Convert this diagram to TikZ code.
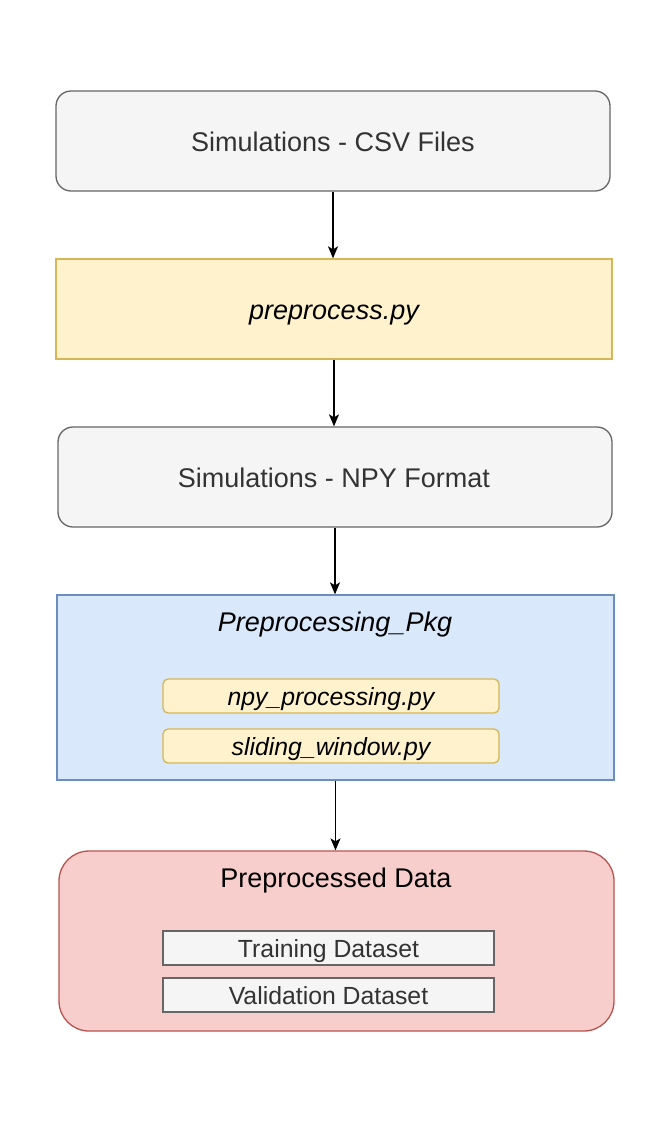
\documentclass[tikz,border=0pt]{standalone}
\usepackage{fontspec}
\setmainfont{Liberation Sans}
\usetikzlibrary{arrows.meta}
\definecolor{greyfill}{HTML}{F5F5F5}
\definecolor{greydraw}{HTML}{666666}
\definecolor{greytext}{HTML}{333333}
\definecolor{yelfill}{HTML}{FFF2CC}
\definecolor{yeldraw}{HTML}{D6B656}
\definecolor{bluefill}{HTML}{DAE8FC}
\definecolor{bluedraw}{HTML}{6C8EBF}
\definecolor{redfill}{HTML}{F8CECC}
\definecolor{reddraw}{HTML}{B85450}
\tikzset{
  box/.style={inner sep=0pt, line width=1.3pt},
  greybox/.style={box, fill=greyfill, draw=greydraw, text=greytext},
  yelbox/.style={box, fill=yelfill, draw=yeldraw, text=black},
  bigfont/.style={font=\fontsize{27}{32}\selectfont, inner sep=0pt, anchor=base},
  smallfont/.style={font=\fontsize{24.8}{30}\selectfont, inner sep=0pt, anchor=base},
  conn/.style={line width=1.5pt, -{Stealth[length=12pt,width=10pt,inset=3pt]}},
}
\begin{document}
\begin{tikzpicture}[x=1pt,y=-1pt]
\useasboundingbox (0,0) rectangle (670,1125);
% top box
\node[greybox, rounded corners=15pt, minimum width=554pt, minimum height=100pt] (csv) at (333,141) {};
\node[bigfont, text=greytext] (csvt) at (333,151) {Simulations - CSV Files};
% preprocess.py
\node[yelbox, minimum width=556pt, minimum height=100pt] (pre) at (334,309) {};
\node[bigfont] (pret) at (334,319) {\itshape preprocess.py};
% NPY
\node[greybox, rounded corners=15pt, minimum width=554pt, minimum height=100pt] (npy) at (335,477) {};
\node[bigfont, text=greytext] (npyt) at (334,487) {Simulations - NPY Format};
% package
\node[box, fill=bluefill, draw=bluedraw, minimum width=557pt, minimum height=185pt] (pkg) at (335.5,687.5) {};
\node[bigfont] (pkgt) at (335,631) {\itshape Preprocessing\_Pkg};
\node[yelbox, rounded corners=5pt, minimum width=336pt, minimum height=34pt] (np) at (331,696) {};
\node[smallfont] (npt) at (331,705) {\itshape npy\_processing.py};
\node[yelbox, rounded corners=5pt, minimum width=336pt, minimum height=34pt] (sw) at (331,746) {};
\node[smallfont] (swt) at (331,755.5) {\itshape sliding\_window.py};
% preprocessed data
\node[box, fill=redfill, draw=reddraw, rounded corners=30pt, minimum width=555pt, minimum height=180pt] (data) at (336.5,941) {};
\node[bigfont] (datat) at (336,887) {Preprocessed Data};
\node[greybox, minimum width=331pt, minimum height=34pt] (tr) at (328.5,948) {};
\node[smallfont, text=greytext] (trt) at (328.5,957) {Training Dataset};
\node[greybox, minimum width=331pt, minimum height=34pt] (va) at (328.5,995) {};
\node[smallfont, text=greytext] (vat) at (328.5,1004) {Validation Dataset};
% connectors
\draw[conn] (csv.south) -- (csv.south |- pre.north);
\draw[conn] (pre.south) -- (pre.south |- npy.north);
\draw[conn] (npy.south) -- (npy.south |- pkg.north);
\draw[conn] (pkg.south) -- (pkg.south |- data.north);
\end{tikzpicture}
\end{document}
